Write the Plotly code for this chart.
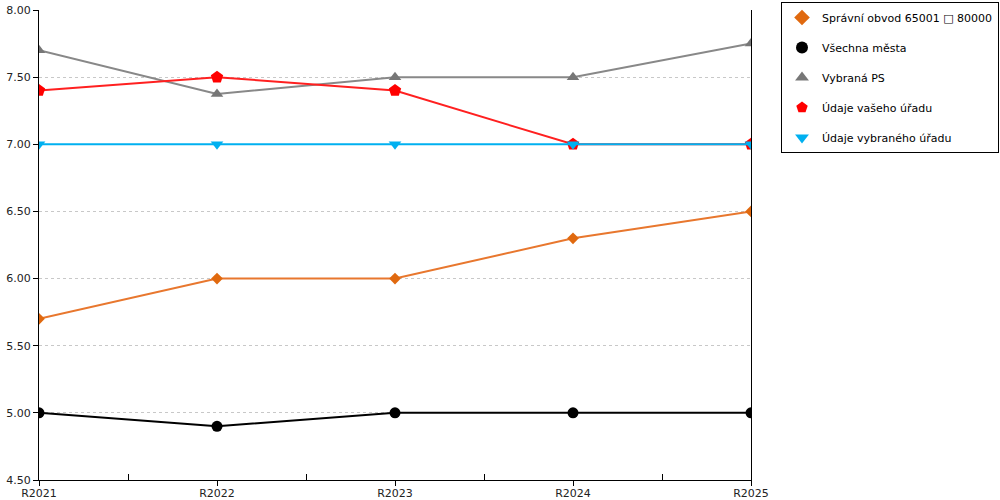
import plotly.graph_objects as go

years = ["R2021", "R2022", "R2023", "R2024", "R2025"]

spravni_obvod = [5.7, 6.0, 6.0, 6.3, 6.5]
vsechna_mesta = [5.0, 4.9, 5.0, 5.0, 5.0]
vybrana_ps = [7.7, 7.375, 7.5, 7.5, 7.75]
vas_urad = [7.4, 7.5, 7.4, 7.0, 7.0]
vybrany_urad = [7.0, 7.0, 7.0, 7.0, 7.0]

x = list(range(len(years)))

series = [
    ("Správní obvod 65001 □ 80000", spravni_obvod, "#e8772e", "#e0690f", "diamond", 9),
    ("Všechna města", vsechna_mesta, "#000000", "#000000", "circle", 11),
    ("Vybraná PS", vybrana_ps, "#888888", "#777777", "triangle-up", 11),
    ("Údaje vašeho úřadu", vas_urad, "#ff2020", "#ff0000", "pentagon", 13),
    ("Údaje vybraného úřadu", vybrany_urad, "#00b0f0", "#00b0f0", "triangle-down", 11),
]

fig = go.Figure()
for i, (name, vals, lc, mc, sym, size) in enumerate(series):
    fig.add_trace(go.Scatter(
        x=x, y=vals, name=name, mode="lines+markers",
        line=dict(color=lc, width=2),
        marker=dict(color=mc, symbol=sym, size=size),
        showlegend=False, legendgroup=str(i),
    ))
    # legend entry shows only the symbol, like the original
    fig.add_trace(go.Scatter(
        x=[None], y=[None], name=name, mode="markers",
        marker=dict(color=mc, symbol=sym, size=12),
        legendgroup=str(i),
    ))

fig.update_layout(
    width=1000, height=500,
    margin=dict(l=39, r=249, t=10, b=20, autoexpand=False),
    paper_bgcolor="white", plot_bgcolor="white",
    font=dict(family="DejaVu Sans", size=11, color="#222222"),
    showlegend=True,
    legend=dict(
        xref="container", yref="container",
        x=0.781, y=0.996, xanchor="left", yanchor="top",
        bordercolor="#000000", borderwidth=1,
        font=dict(size=11, color="#000000"),
        tracegroupgap=11, itemwidth=30,
    ),
)

fig.update_xaxes(
    range=[0, 4], tickvals=x, ticktext=years,
    showgrid=False, zeroline=False, automargin=False,
    showline=True, linecolor="#000000", linewidth=1,
    ticks="outside", ticklen=5, tickcolor="#000000",
    ticklabelstandoff=-2,
    minor=dict(tickvals=[0.5, 1.5, 2.5, 3.5], ticks="inside", ticklen=6, tickcolor="#000000"),
)

fig.update_yaxes(
    range=[4.5, 8.0], dtick=0.5, tickformat=".2f",
    showgrid=True, gridcolor="#c8c8c8", griddash="dot",
    zeroline=False, automargin=False,
    showline=True, linecolor="#000000", linewidth=1, mirror=True,
    ticks="outside", ticklen=5, tickcolor="#000000",
)

# drop the page's default body margin so the figure sits at the corner
fig.write_html("out.html", config={"displayModeBar": False},
               post_script="document.body.style.margin='0px';")
